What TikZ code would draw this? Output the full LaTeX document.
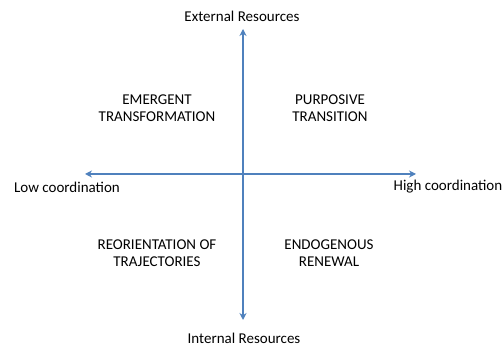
\documentclass[tikz,border=0pt]{standalone}
\usepackage{fontspec}
\setmainfont{Carlito}
\usetikzlibrary{arrows.meta}
\definecolor{axisblue}{HTML}{4F81BD}
\begin{document}
\begin{tikzpicture}[x=1pt,y=-1pt,
  axis/.style={draw=axisblue,line width=1.8pt,{Stealth[length=7pt,width=7pt]}-{Stealth[length=7pt,width=7pt]}},
  lbl/.style={font=\fontsize{15}{18}\selectfont,inner sep=0pt},
  quad/.style={font=\fontsize{15}{17.5}\selectfont,align=center,inner sep=0pt}]
\useasboundingbox (0,0) rectangle (504,347);
\coordinate (top) at (243,29);
\coordinate (bot) at (243,320);
\coordinate (left) at (85,174);
\coordinate (right) at (416,174);
\draw[axis] (top) -- (bot);
\draw[axis] (left) -- (right);
\node[lbl] (ext) at (242,16) {External Resources};
\node[lbl] (int) at (244,338) {Internal Resources};
\node[lbl] (low) at (67,187) {Low coordination};
\node[lbl] (high) at (448,187) {High coordination};
\node[quad] (em) at (157,108) {EMERGENT\\TRANSFORMATION};
\node[quad] (pu) at (330,108) {PURPOSIVE\\TRANSITION};
\node[quad] (re) at (157,253) {REORIENTATION OF\\TRAJECTORIES};
\node[quad] (en) at (329,253) {ENDOGENOUS\\RENEWAL};
\end{tikzpicture}
\end{document}
